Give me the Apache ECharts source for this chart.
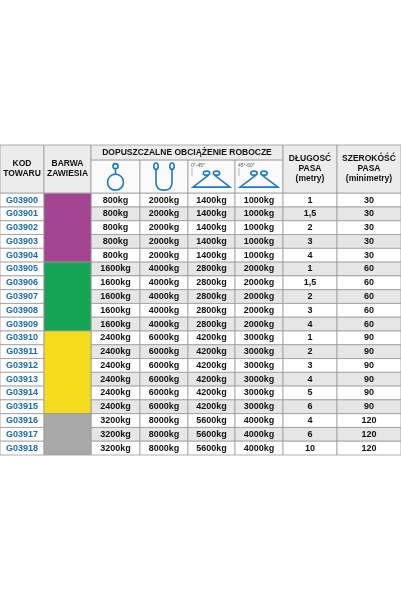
<!DOCTYPE html>
<html><head><meta charset="utf-8">
<script src="https://cdn.jsdelivr.net/npm/echarts@6/dist/echarts.min.js"></script>
<style>html,body{margin:0;padding:0;background:#fff}#c{width:401px;height:601px}</style>
</head><body><div id="c"></div>
<script>
const codes=['G03900','G03901','G03902','G03903','G03904','G03905','G03906','G03907','G03908','G03909','G03910','G03911','G03912','G03913','G03914','G03915','G03916','G03917','G03918'];
const loadVertical=[800,800,800,800,800,1600,1600,1600,1600,1600,2400,2400,2400,2400,2400,2400,3200,3200,3200];
const loadU=[2000,2000,2000,2000,2000,4000,4000,4000,4000,4000,6000,6000,6000,6000,6000,6000,8000,8000,8000];
const load45=[1400,1400,1400,1400,1400,2800,2800,2800,2800,2800,4200,4200,4200,4200,4200,4200,5600,5600,5600];
const load60=[1000,1000,1000,1000,1000,2000,2000,2000,2000,2000,3000,3000,3000,3000,3000,3000,4000,4000,4000];
const lengths=['1','1,5','2','3','4','1','1,5','2','3','4','1','2','3','4','5','6','4','6','10'];
const widths=[30,30,30,30,30,60,60,60,60,60,90,90,90,90,90,90,120,120,120];
const colorGroups=[{from:0,to:5,color:'#a2448f'},{from:5,to:10,color:'#15a456'},{from:10,to:16,color:'#f4dc1c'},{from:16,to:19,color:'#a9a9a9'}];
const headerLabels=['KOD\nTOWARU','BARWA\nZAWIESIA','DŁUGOSĆ\nPASA\n(metry)','SZEROKÓŚĆ\nPASA\n(minimetry)'];
const groupHeader='DOPUSZCZALNE OBCIĄŻENIE ROBOCZE';

const edges=[0,44,91,140,188,235,283,337,401];
const HTOP=-3.5, HMID=-2.4;
const cells=[];
// header cells
cells.push({c0:0,c1:1,r0:HTOP,r1:0,text:headerLabels[0],bg:'#ececec',col:'#111',font:'bold 8.5px "Liberation Sans"'});
cells.push({c0:1,c1:2,r0:HTOP,r1:0,text:headerLabels[1],bg:'#ececec',col:'#111',font:'bold 8.5px "Liberation Sans"'});
cells.push({c0:2,c1:6,r0:HTOP,r1:HMID,text:groupHeader,bg:'#ececec',col:'#111',font:'bold 8.5px "Liberation Sans"'});
for(let k=0;k<4;k++) cells.push({c0:2+k,c1:3+k,r0:HMID,r1:0,text:'',bg:'#fafafa',icon:k});
cells.push({c0:6,c1:7,r0:HTOP,r1:0,text:headerLabels[2],bg:'#ececec',col:'#111',font:'bold 8.5px "Liberation Sans"'});
cells.push({c0:7,c1:8,r0:HTOP,r1:0,text:headerLabels[3],bg:'#ececec',col:'#111',font:'bold 8.5px "Liberation Sans"'});
const dfont='bold 9px "Liberation Sans"';
codes.forEach((code,i)=>{
  const bg=i%2?'#e6e6e6':'#ffffff';
  cells.push({c0:0,c1:1,r0:i,r1:i+1,text:code,bg:'#ffffff',col:'#1a6bb0',font:dfont});
  [loadVertical,loadU,load45,load60].forEach((arr,k)=>cells.push({c0:2+k,c1:3+k,r0:i,r1:i+1,text:arr[i]+'kg',bg:bg,col:'#111',font:dfont}));
  cells.push({c0:6,c1:7,r0:i,r1:i+1,text:lengths[i],bg:bg,col:'#111',font:dfont});
  cells.push({c0:7,c1:8,r0:i,r1:i+1,text:String(widths[i]),bg:bg,col:'#111',font:dfont});
});
colorGroups.forEach(g=>cells.push({c0:1,c1:2,r0:g.from,r1:g.to,text:'',bg:g.color}));

const data=cells.map(c=>[edges[c.c0],c.r0,edges[c.c1],c.r1]);
function icon(k,x0,y0,x1,y1){
  const cx=(x0+x1)/2, w=x1-x0, h=y1-y0, st={stroke:'#1f7bbf',fill:null,lineWidth:1.6};
  const els=[];
  if(k===0){
    els.push({type:'circle',shape:{cx:cx,cy:y0+6,r:2.5},style:st});
    els.push({type:'line',shape:{x1:cx,y1:y0+8.5,x2:cx,y2:y0+14},style:st});
    els.push({type:'circle',shape:{cx:cx,cy:y0+22,r:8},style:st});
  }else if(k===1){
    els.push({type:'ellipse',shape:{cx:cx-8,cy:y0+6,rx:2.2,ry:3.2},style:st});
    els.push({type:'ellipse',shape:{cx:cx+8,cy:y0+6,rx:2.2,ry:3.2},style:st});
    els.push({type:'path',shape:{pathData:`M${cx-8} ${y0+9} L${cx-8} ${y0+22} Q${cx-8} ${y0+30} ${cx} ${y0+30} Q${cx+8} ${y0+30} ${cx+8} ${y0+22} L${cx+8} ${y0+9}`},style:st});
  }else{
    const ax=cx, ay=y0+13, lx=x0+5, rx=x1-5, by=y0+27;
    els.push({type:'path',shape:{pathData:`M${ax-3} ${ay+2} L${lx} ${by} L${rx} ${by} L${ax+3} ${ay+2}`},style:st});
    els.push({type:'ellipse',shape:{cx:ax-5,cy:ay,rx:3.2,ry:2},style:st});
    els.push({type:'ellipse',shape:{cx:ax+5,cy:ay,rx:3.2,ry:2},style:st});
    els.push({type:'text',style:{x:x0+3,y:y0+3,text:k===2?'0°-45°':'45°-60°',fontSize:5,fill:'#555'}});
    els.push({type:'line',shape:{x1:x0+4,y1:y0+8,x2:x0+4,y2:y0+16},style:{stroke:'#888',lineWidth:0.6}});
  }
  return els;
}
const chart=echarts.init(document.getElementById('c'));
chart.setOption({
  animation:false,
  grid:{left:0,right:0,top:145,bottom:146},
  xAxis:{type:'value',min:0,max:401,show:false},
  yAxis:{type:'value',min:HTOP,max:19,inverse:true,show:false},
  series:[{type:'custom',data:data,coordinateSystem:'cartesian2d',
    renderItem:function(params,api){
      const c=cells[params.dataIndex];
      const p0=api.coord([api.value(0),api.value(1)]), p1=api.coord([api.value(2),api.value(3)]);
      const children=[{type:'rect',shape:{x:p0[0],y:p0[1],width:p1[0]-p0[0],height:p1[1]-p0[1]},
        style:{fill:c.bg,stroke:'#9a9a9a',lineWidth:0.8}}];
      if(c.text) children.push({type:'text',style:{x:(p0[0]+p1[0])/2,y:(p0[1]+p1[1])/2,text:c.text,align:'center',verticalAlign:'middle',font:c.font,fill:c.col,lineHeight:10}});
      if(c.icon!==undefined) children.push(...icon(c.icon,p0[0],p0[1],p1[0],p1[1]));
      return {type:'group',children:children};
    }}]
});
</script></body></html>
